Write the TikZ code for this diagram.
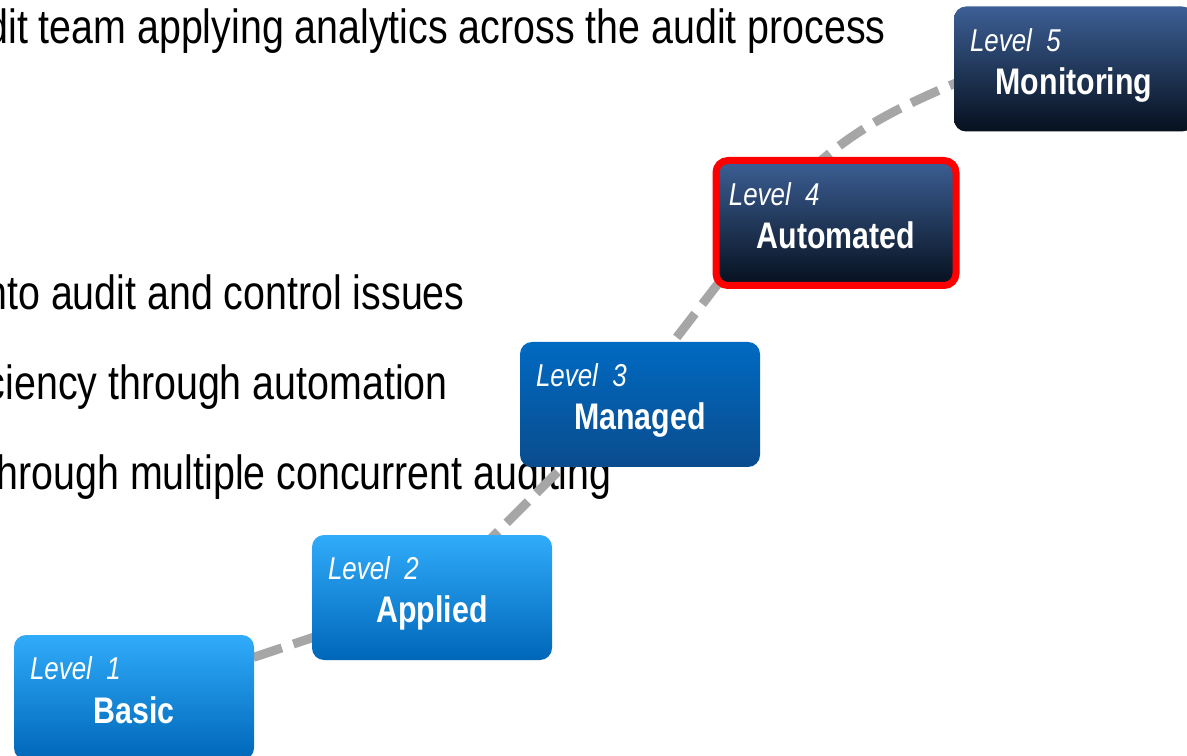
\documentclass[tikz,border=0pt]{standalone}
\usepackage{fontspec}
\setmainfont{Liberation Sans}[FakeStretch=0.82]
\usetikzlibrary{calc,backgrounds}

\definecolor{skytop}{HTML}{30ACFA}
\definecolor{skybot}{HTML}{0066B8}
\definecolor{midtop}{HTML}{006AC2}
\definecolor{midbot}{HTML}{0A4C8D}
\definecolor{navytop}{HTML}{3C5F95}
\definecolor{navybot}{HTML}{06101E}
\definecolor{trailgray}{HTML}{A6A6A6}

\tikzset{
  lvlbox/.style={rounded corners=6pt, minimum width=120pt, minimum height=62.5pt, inner sep=0pt},
  lvltag/.style={anchor=base west, inner sep=0pt, text=white, font=\fontsize{15.8}{18}\selectfont\itshape},
  lvlname/.style={anchor=base, inner sep=0pt, text=white, font=\fontsize{18.5}{22}\selectfont\bfseries},
  bullet/.style={anchor=base east, inner sep=0pt, font=\fontsize{24}{28}\selectfont},
  trail/.style={trailgray, line width=4.5pt, dash pattern=on 15pt off 6pt},
}

\begin{document}
\begin{tikzpicture}[x=0.5pt, y=0.5pt]

\useasboundingbox (0,0) rectangle (1187,755);
\clip (0,0) rectangle (1187,755);

\node[lvlbox, top color=skytop, bottom color=skybot] (lvl1) at (134,57.5) {};
\node[lvltag] (tag1) at ([shift={(16,-45)}]lvl1.north west) {Level\ \ 1};
\node[lvlname] (name1) at ([shift={(0,-89)}]lvl1.north) {Basic};

\node[lvlbox, top color=skytop, bottom color=skybot] (lvl2) at (432,157.5) {};
\node[lvltag] (tag2) at ([shift={(16,-45)}]lvl2.north west) {Level\ \ 2};
\node[lvlname] (name2) at ([shift={(0,-88)}]lvl2.north) {Applied};

\node[lvlbox, top color=midtop, bottom color=midbot] (lvl3) at (640,350.5) {};
\node[lvltag] (tag3) at ([shift={(16,-45)}]lvl3.north west) {Level\ \ 3};
\node[lvlname] (name3) at ([shift={(0,-88)}]lvl3.north) {Managed};

\node[lvlbox, top color=navytop, bottom color=navybot, draw=red, line width=3.5pt] (lvl4) at (836,532) {};
\node[lvltag] (tag4) at ([shift={(16,-49)}]lvl4.north west) {Level\ \ 4};
\node[lvlname] (name4) at ([shift={(0,-92)}]lvl4.north) {Automated};

\node[lvlbox, top color=navytop, bottom color=navybot] (lvl5) at (1074,686) {};
\node[lvltag] (tag5) at ([shift={(16,-45)}]lvl5.north west) {Level\ \ 5};
\node[lvlname] (name5) at ([shift={(0,-88)}]lvl5.north) {Monitoring};

\begin{scope}[on background layer]
\node[bullet] (line1) at (886,711) {dit team applying analytics across the audit process};
\node[bullet] (line2) at (465,445) {nto audit and control issues};
\node[bullet] (line3) at (448,355) {ciency through automation};
\node[bullet] (line4) at (612,265) {hrough multiple concurrent auditing};

\draw[trail] (lvl1.center) -- (lvl2.center) -- ($(lvl3.center)+(-15,0)$)
  -- ($(lvl4.center)+(-72,-1)$) to[out=54, in=202] ($(lvl5.center)+(-74,4)$);
\end{scope}

\end{tikzpicture}
\end{document}
